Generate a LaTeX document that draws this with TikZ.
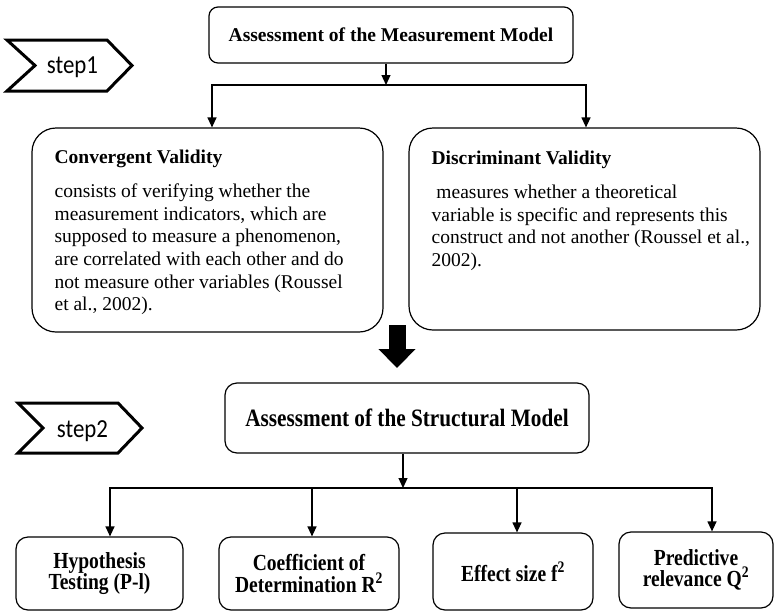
\documentclass[tikz,border=0pt]{standalone}
\usepackage{fontspec}
\setmainfont{Liberation Serif}
\newfontfamily\narrowserif[FakeStretch=0.85]{Liberation Serif}
\newfontfamily\stepfont[FakeStretch=0.88]{Carlito}
\usetikzlibrary{arrows.meta}

\begin{document}
\begin{tikzpicture}[x=1pt, y=-1pt,
	roundbox/.style={draw, line width=1.2pt, rounded corners=#1, inner sep=0pt},
	roundbox/.default=10pt,
	arr/.style={line width=1.2pt, -{Triangle[length=10pt, width=9pt]}},
	chevron/.style={line width=3pt, line join=miter},
	steplabel/.style={anchor=base, inner sep=0pt, font=\stepfont\fontsize{26}{28}\selectfont},
	bodytext/.style={anchor=north west, inner sep=0pt, align=left, font=\fontsize{19.5}{22.6}\selectfont},
	resultbox/.style={roundbox=12pt, align=center, font=\narrowserif\bfseries\fontsize{23}{21.6}\selectfont}]
	\useasboundingbox (0,0) rectangle (774,611);

	% step 1
	\draw[chevron] (7,40) -- (107,40) -- (132,65.5) -- (107,91) -- (7,91) -- (35,65.5) -- cycle;
	\node[steplabel] (step1) at (72.5,73) {step1};
	\node[roundbox=9pt, minimum width=364pt, minimum height=56pt, font=\bfseries\fontsize{19.5}{22}\selectfont] (measure) at (391,35) {Assessment of the Measurement Model};
	\node[roundbox=24pt, minimum width=351pt, minimum height=204pt] (conv) at (207.5,230) {};
	\node[roundbox=24pt, minimum width=351pt, minimum height=202pt] (disc) at (584.5,229) {};
	\node[bodytext] (convtext) at ([xshift=23pt, yshift=-22pt]conv.north west) {\textbf{Convergent Validity}\\[12pt]
		consists of verifying whether the\\
		measurement indicators, which are\\
		supposed to measure a phenomenon,\\
		are correlated with each other and do\\
		not measure other variables (Roussel\\
		et al., 2002).};
	\node[bodytext] (disctext) at ([xshift=23pt, yshift=-23pt]disc.north west) {\textbf{Discriminant Validity}\\[12pt]
		\ measures whether a theoretical\\
		variable is specific and represents this\\
		construct and not another (Roussel et al.,\\
		2002).};
	\coordinate (fork1) at (386,85);
	\draw[arr] (measure.south -| fork1) -- (fork1);
	\draw[arr] (fork1) -| ([xshift=4.5pt]conv.north);
	\draw[arr] (fork1) -| ([xshift=1.5pt]disc.north);

	% big arrow between the steps
	\coordinate (flowtop) at (397,325);
	\coordinate (flowbot) at (397,368);
	\draw[line width=17pt, -{Triangle[length=19pt, width=36pt]}] (flowtop) -- (flowbot);

	% step 2
	\draw[chevron] (18,403) -- (118,403) -- (142,428) -- (118,453) -- (18,453) -- (43,428) -- cycle;
	\node[steplabel] (step2) at (82.5,437) {step2};
	\node[roundbox=12pt, minimum width=364pt, minimum height=70pt, font=\narrowserif\bfseries\fontsize{25}{28}\selectfont] (struct) at (407,418) {Assessment of the Structural Model};
	\node[resultbox, minimum width=167pt, minimum height=73pt] (hyp) at (99.5,573.5) {Hypothesis\\Testing (P-l)};
	\node[resultbox, minimum width=180pt, minimum height=73pt] (coef) at (309,573.5) {Coefficient of\\Determination R\textsuperscript{2}};
	\node[resultbox, minimum width=160pt, minimum height=77pt] (eff) at (513,571.5) {Effect size f\textsuperscript{2}};
	\node[resultbox, minimum width=154pt, minimum height=76pt] (pred) at (696,570) {Predictive\\relevance Q\textsuperscript{2}};
	\coordinate (fork2) at (403,488);
	\draw[arr] (struct.south -| fork2) -- (fork2);
	\draw[arr] (fork2) -| ([xshift=10.5pt]hyp.north);
	\draw[arr] (fork2) -| ([xshift=3pt]coef.north);
	\draw[arr] (fork2) -| ([xshift=4pt]eff.north);
	\draw[arr] (fork2) -| ([xshift=16pt]pred.north);
\end{tikzpicture}
\end{document}
